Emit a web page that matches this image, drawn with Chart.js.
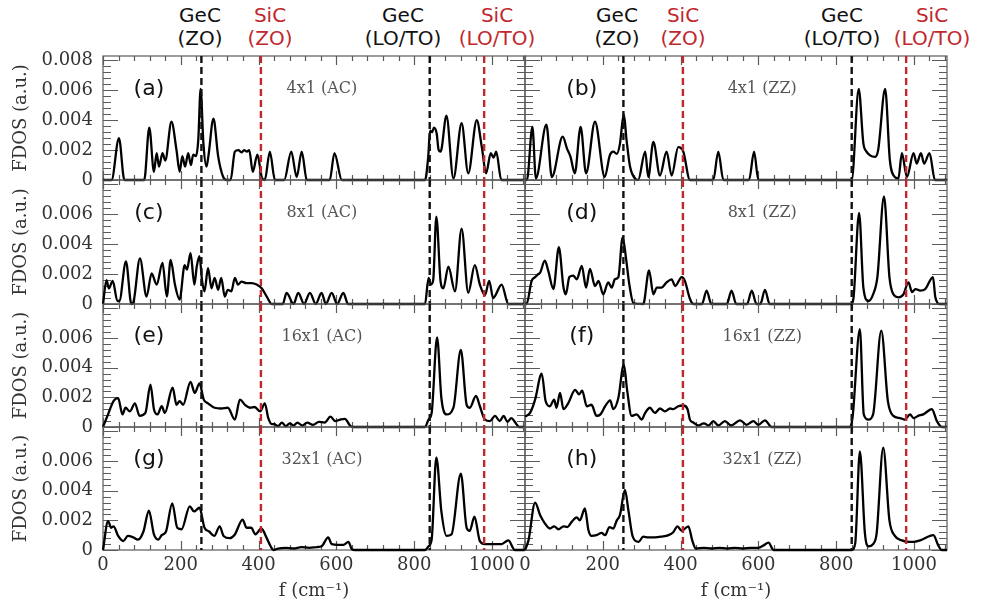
<!DOCTYPE html>
<html>
<head>
<meta charset="utf-8">
<script src="https://cdn.jsdelivr.net/npm/chart.js@4.4.1/dist/chart.umd.min.js"></script>
<style>
  html, body { margin: 0; padding: 0; background: #fff; }
  #fig { position: relative; width: 982px; height: 607px; overflow: hidden; background: #fff; }
  #fig canvas { position: absolute; }
  .mode { position: absolute; top: 4px; transform: translateX(-50%); font: 20px "DejaVu Sans", sans-serif;
          line-height: 23px; text-align: center; white-space: nowrap; }
</style>
</head>
<body>
<div id="fig"></div>
<script>
// frequency (cm^-1) and FDOS (in units of 1e-3 a.u.)
const freqA = [0, 22, 41, 55, 106, 119, 131, 138, 144, 153, 160, 176, 189, 197, 204, 211, 219, 226, 232, 239, 245, 251, 258, 266, 271, 284, 296, 309, 318, 328, 339, 348, 356, 363, 370, 376, 385, 397, 408, 416, 429, 442, 466, 484, 498, 511, 524, 583, 595, 614, 828, 836, 841, 846, 851, 858, 863, 868, 883, 901, 922, 939, 961, 974, 985, 997, 1004, 1011, 1024, 1085];
const fdosA = [0, 0, 2.8, 0, 0, 3.5, 0.55, 1.8, 0.9, 1.8, 1.3, 3.9, 2.0, 0.55, 1.6, 0.9, 1.8, 1.0, 1.7, 1.6, 2.7, 6.1, 2.5, 0.9, 1.6, 4.1, 1.6, 0.2, 0, 0, 1.9, 2.0, 1.85, 2.0, 1.9, 2.0, 0.55, 1.7, 0.2, 0, 1.9, 0, 0, 1.9, 0.2, 1.9, 0, 0, 1.8, 0, 0, 1.5, 3.3, 3.2, 3.5, 3.1, 2.0, 1.9, 4.3, 0.1, 3.8, 0.45, 4.0, 2.2, 0.45, 1.8, 1.5, 1.9, 0, 0];

const freqB = [0, 5, 19, 28, 55, 69, 97, 108, 117, 128, 143, 157, 180, 205, 218, 227, 236, 244, 254, 261, 270, 285, 291, 309, 317, 330, 347, 364, 377, 394, 407, 424, 484, 497, 510, 576, 589, 600, 840, 858, 870, 878, 887, 900, 908, 926, 938, 951, 960, 969, 982, 999, 1007, 1018, 1026, 1040, 1054, 1085];
const fdosB = [0, 0, 3.55, 0.1, 3.7, 0.2, 2.9, 2.1, 1.55, 0.45, 3.55, 0.45, 3.9, 0.2, 1.65, 1.9, 1.75, 2.4, 4.4, 2.7, 0.9, 0.05, 0, 1.9, 0.2, 2.55, 0.3, 1.9, 0.3, 2.2, 1.9, 0, 0, 1.9, 0, 0, 1.9, 0, 0, 6.1, 2.45, 1.9, 1.65, 1.55, 2.0, 6.1, 1.35, 0.2, 0.1, 1.8, 0.2, 1.8, 1.1, 1.8, 1.1, 1.8, 0, 0];

const freqC = [0, 9, 15, 25, 37, 42, 59, 73, 78, 95, 112, 125, 138, 153, 164, 174, 185, 197, 210, 216, 225, 235, 241, 248, 255, 261, 270, 279, 287, 296, 304, 313, 321, 330, 339, 347, 356, 369, 382, 395, 408, 421, 434, 462, 472, 490, 502, 517, 532, 547, 562, 573, 588, 602, 618, 630, 828, 837, 843, 849, 857, 868, 875, 888, 905, 922, 939, 956, 969, 982, 993, 1003, 1025, 1042, 1085];
const fdosC = [0, 1.6, 1.05, 1.55, 0.2, 0.2, 2.85, 0, 0.1, 3.05, 0.5, 2.05, 1.3, 2.75, 0.5, 2.95, 1.3, 0.3, 2.6, 2.3, 3.4, 1.3, 2.5, 3.2, 1.5, 0.85, 2.4, 1.05, 1.75, 0.95, 1.75, 0.5, 0.95, 0.85, 1.75, 1.3, 1.5, 1.4, 1.4, 1.3, 1.05, 0.5, 0, 0, 0.75, 0, 0.75, 0, 0.75, 0, 0.75, 0, 0.75, 0, 0.75, 0, 0, 1.75, 1.3, 1.6, 5.85, 1.5, 1.05, 2.5, 0.85, 5.05, 0.75, 2.6, 1.3, 0.6, 1.55, 0.4, 1.3, 0, 0];

const freqD = [0, 4, 17, 26, 34, 39, 51, 60, 73, 87, 99, 105, 114, 124, 133, 146, 157, 167, 180, 189, 201, 214, 223, 231, 240, 251, 260, 268, 279, 304, 319, 330, 339, 351, 364, 377, 386, 403, 411, 424, 433, 455, 467, 479, 519, 531, 543, 571, 583, 595, 605, 617, 629, 840, 845, 859, 870, 883, 895, 906, 923, 937, 947, 960, 973, 986, 995, 1004, 1016, 1029, 1049, 1055, 1067, 1085];
const fdosD = [0, 0, 1.55, 1.8, 2.0, 2.1, 2.9, 2.2, 1.0, 3.8, 1.1, 0.65, 1.8, 1.9, 1.65, 2.55, 1.1, 2.35, 1.2, 1.55, 0.65, 1.45, 1.1, 1.65, 1.8, 4.45, 3.0, 1.35, 0.05, 0, 2.25, 0.65, 1.1, 1.1, 1.45, 1.65, 1.2, 1.8, 1.55, 0.35, 0, 0, 0.9, 0, 0, 0.9, 0, 0, 0.9, 0, 0, 0.95, 0, 0, 0.5, 6.1, 1.1, 0.2, 0.65, 1.8, 7.2, 1.8, 0.65, 0.45, 0.65, 1.45, 0.8, 1.0, 0.9, 1.0, 1.8, 0.45, 0, 0];

const freqE = [0, 13, 27, 39, 50, 58, 69, 82, 94, 109, 122, 131, 140, 151, 159, 179, 189, 197, 206, 225, 236, 248, 259, 270, 287, 304, 321, 339, 352, 365, 378, 390, 404, 416, 425, 434, 440, 450, 460, 470, 480, 490, 500, 512, 525, 540, 555, 570, 585, 597, 610, 622, 635, 642, 828, 837, 845, 859, 870, 883, 901, 920, 935, 943, 959, 969, 982, 995, 1008, 1020, 1030, 1040, 1050, 1060, 1070, 1085];
const fdosE = [0, 0.85, 1.75, 1.95, 0.85, 1.3, 1.05, 1.6, 0.75, 0.95, 2.85, 1.2, 0.85, 1.4, 0.95, 2.65, 1.5, 1.75, 1.5, 3.05, 2.3, 2.95, 1.85, 1.6, 1.3, 1.25, 1.3, 0.5, 1.85, 1.5, 1.3, 1.35, 1.05, 1.6, 0.6, 0.2, 0.2, 0.05, 0.3, 0.05, 0.25, 0.1, 0.3, 0.1, 0.3, 0.15, 0.35, 0.3, 0.7, 0.4, 0.5, 0.55, 0.1, 0, 0, 0.5, 0.95, 6.05, 1.95, 0.85, 1.3, 5.2, 1.5, 1.3, 2.1, 1.4, 0.5, 0.4, 0.75, 0.4, 0.75, 0.35, 0.6, 0.3, 0, 0];

const freqF = [0, 13, 26, 43, 53, 64, 75, 81, 90, 99, 111, 129, 139, 147, 159, 171, 184, 194, 206, 219, 227, 240, 254, 263, 274, 287, 300, 309, 321, 334, 347, 360, 373, 381, 394, 407, 418, 424, 433, 445, 460, 472, 484, 497, 514, 530, 553, 570, 587, 600, 617, 634, 835, 842, 861, 871, 883, 895, 916, 933, 947, 964, 977, 990, 999, 1011, 1024, 1046, 1059, 1072, 1085];
const fdosF = [0.7, 0.95, 1.85, 3.6, 1.75, 1.4, 1.85, 1.3, 2.3, 1.2, 1.6, 2.5, 2.2, 2.45, 1.4, 1.5, 0.75, 0.85, 1.4, 1.8, 1.2, 1.95, 4.2, 2.4, 0.75, 0.85, 0.5, 0.95, 1.3, 0.95, 1.25, 1.05, 1.25, 1.2, 1.4, 1.45, 1.2, 0.5, 0.3, 0.1, 0.25, 0.1, 0.4, 0.1, 0.4, 0.1, 0.45, 0.15, 0.4, 0.15, 0.45, 0, 0, 0.6, 6.6, 0.85, 0.5, 0.85, 6.5, 1.75, 0.75, 0.6, 0.5, 0.85, 0.6, 0.75, 0.85, 1.2, 0.4, 0, 0];

const freqG = [0, 13, 21, 27, 39, 52, 64, 78, 90, 104, 118, 131, 142, 151, 162, 178, 191, 202, 223, 234, 248, 261, 273, 286, 300, 310, 326, 339, 359, 369, 381, 392, 407, 421, 431, 438, 450, 470, 490, 510, 530, 550, 562, 579, 588, 605, 618, 631, 640, 648, 828, 837, 845, 857, 870, 883, 896, 920, 935, 943, 955, 969, 982, 1003, 1025, 1042, 1059, 1085];
const fdosG = [0, 1.95, 1.5, 1.6, 0.95, 0.6, 0.95, 0.85, 0.7, 1.25, 2.65, 1.05, 0.7, 1.0, 1.25, 3.15, 1.5, 1.4, 2.95, 2.6, 2.85, 1.5, 1.25, 0.95, 1.6, 0.95, 0.8, 1.05, 2.05, 1.5, 1.5, 1.05, 1.45, 0.8, 0.25, 0, 0.1, 0.15, 0.1, 0.2, 0.15, 0.2, 0.25, 0.85, 0.4, 0.35, 0.35, 0.55, 0.05, 0, 0, 0.25, 0.7, 6.25, 2.6, 0.95, 1.05, 5.15, 1.5, 1.3, 2.25, 0.6, 0.4, 0.4, 0.4, 0.65, 0, 0];

const freqH = [0, 9, 26, 39, 51, 64, 75, 86, 99, 109, 120, 133, 141, 154, 163, 171, 184, 197, 206, 217, 227, 236, 244, 257, 266, 277, 292, 304, 317, 334, 351, 369, 381, 392, 403, 420, 430, 439, 460, 480, 500, 520, 540, 560, 580, 600, 613, 626, 639, 840, 849, 861, 874, 883, 895, 904, 921, 937, 951, 969, 986, 999, 1016, 1050, 1062, 1071, 1085];
const fdosH = [0, 0.65, 3.2, 2.35, 1.8, 1.45, 1.6, 1.4, 1.6, 1.55, 1.9, 2.2, 2.0, 2.8, 1.35, 0.95, 1.0, 1.15, 1.0, 1.55, 1.45, 2.0, 2.35, 4.05, 2.65, 0.9, 0.55, 0.9, 0.85, 0.85, 0.9, 1.0, 1.2, 1.6, 1.3, 1.6, 0.65, 0.1, 0.15, 0.1, 0.15, 0.1, 0.15, 0.1, 0.15, 0.15, 0.3, 0.5, 0, 0, 0.45, 6.65, 1.1, 0.25, 0.4, 1.1, 6.9, 2.0, 0.95, 0.65, 0.55, 0.55, 0.65, 1.0, 0.35, 0, 0];

const panelFreqs = [freqA, freqB, freqC, freqD, freqE, freqF, freqG, freqH];
const panelFdos = [fdosA, fdosB, fdosC, fdosD, fdosE, fdosF, fdosG, fdosH];
const panelLetters = ['(a)', '(b)', '(c)', '(d)', '(e)', '(f)', '(g)', '(h)'];
const panelTitles = ['4x1 (AC)', '4x1 (ZZ)', '8x1 (AC)', '8x1 (ZZ)', '16x1 (AC)', '16x1 (ZZ)', '32x1 (AC)', '32x1 (ZZ)'];

// reference phonon modes (dashed lines)
const modeFreqs = [253, 406, 840, 980];
const modeNames = [['GeC', '(ZO)'], ['SiC', '(ZO)'], ['GeC', '(LO/TO)'], ['SiC', '(LO/TO)']];
const modeColors = ['#111111', '#c0282d', '#111111', '#c0282d'];
const modeLabelX = [[200, 270, 403, 497], [617, 683, 842, 932]];

const xTickStep = 200;
const yTickStep = 0.002;
const fdosUnit = 1e-3;

// page geometry
const plotLeft = [103, 525];
const plotRight = [525, 947];
const rowTop = [56, 180, 304, 427];
const rowBottom = [180, 304, 427, 550];

const fig = document.getElementById('fig');

// mode labels above the panels
[0, 1].forEach(col => {
  modeNames.forEach((name, i) => {
    const d = document.createElement('div');
    d.className = 'mode';
    d.style.left = modeLabelX[col][i] + 'px';
    d.style.color = modeColors[i];
    d.innerHTML = name[0] + '<br>' + name[1];
    fig.appendChild(d);
  });
});

const decor = {
  id: 'decor',
  beforeDatasetsDraw(chart) {
    const { ctx, chartArea: a, scales: { x, y } } = chart;
    ctx.save();
    ctx.strokeStyle = '#5a5a5a';
    ctx.lineWidth = 1.2;
    ctx.strokeRect(a.left, a.top, a.width, a.height);
    ctx.beginPath();
    for (let k = 0; k * 40 <= x.max; k++) {
      const px = Math.round(x.getPixelForValue(k * 40)) + 0.5;
      const len = k % 5 === 0 ? 9 : 5;
      ctx.moveTo(px, a.bottom); ctx.lineTo(px, a.bottom - len);
      ctx.moveTo(px, a.top); ctx.lineTo(px, a.top + len);
    }
    for (let k = 0; k * 0.0004 <= y.max + 1e-9; k++) {
      const py = Math.round(y.getPixelForValue(k * 0.0004)) + 0.5;
      const len = k % 5 === 0 ? 15 : 8;
      ctx.moveTo(a.left, py); ctx.lineTo(a.left + len, py);
      ctx.moveTo(a.right, py); ctx.lineTo(a.right - len, py);
    }
    ctx.stroke();
    ctx.restore();
  },
  afterDatasetsDraw(chart, args, opts) {
    const { ctx, chartArea: a, scales: { x, y } } = chart;
    ctx.save();
    ctx.lineWidth = 2.4;
    ctx.setLineDash([7, 4]);
    modeFreqs.forEach((f, i) => {
      const px = x.getPixelForValue(f);
      ctx.strokeStyle = modeColors[i];
      ctx.beginPath();
      ctx.moveTo(px, a.top);
      ctx.lineTo(px, a.bottom);
      ctx.stroke();
    });
    ctx.setLineDash([]);
    ctx.textAlign = 'center';
    ctx.textBaseline = 'middle';
    const ty = y.getPixelForValue(0.0061);
    ctx.fillStyle = '#111';
    ctx.font = '22px "DejaVu Sans", sans-serif';
    ctx.fillText(opts.letter, x.getPixelForValue(opts.col === 0 ? 118 : 146), ty);
    ctx.fillStyle = '#555';
    ctx.font = '16px "DejaVu Serif", serif';
    ctx.fillText(opts.title, x.getPixelForValue(opts.col === 0 ? 563 : 610), ty);
    ctx.restore();
  }
};

function makePanel(i) {
  const row = Math.floor(i / 2), col = i % 2;
  const isBottom = row === 3;
  // room for the y tick labels that spill above / below the plot box
  const padTop = 26;
  const padLeft = col === 0 ? 0 : 14;
  const padRight = col === 0 ? 2 : 8;
  const yWidth = col === 0 ? plotLeft[0] : 0;
  const xHeight = isBottom ? 52 : 26;
  const left = col === 0 ? 0 : plotLeft[1] - padLeft;
  const width = plotRight[col] + padRight - left;
  const top = rowTop[row] - padTop;
  const height = rowBottom[row] - rowTop[row] + padTop + xHeight;

  const canvas = document.createElement('canvas');
  canvas.width = width; canvas.height = height;
  canvas.style.left = left + 'px'; canvas.style.top = top + 'px';
  canvas.style.width = width + 'px'; canvas.style.height = height + 'px';
  canvas.style.zIndex = String(1 + col);
  fig.appendChild(canvas);

  const pts = panelFreqs[i].map((f, k) => ({ x: f, y: panelFdos[i][k] * fdosUnit }));

  return new Chart(canvas.getContext('2d'), {
    type: 'line',
    data: {
      datasets: [{
        data: pts,
        borderColor: '#000',
        borderWidth: 2.3,
        pointRadius: 0,
        fill: false,
        cubicInterpolationMode: 'monotone',
        clip: 2
      }]
    },
    options: {
      responsive: false,
      animation: false,
      devicePixelRatio: 1,
      layout: { padding: { top: padTop, left: padLeft, right: padRight, bottom: 0 } },
      plugins: {
        legend: { display: false },
        tooltip: { enabled: false },
        decor: { letter: panelLetters[i], title: panelTitles[i], col: col }
      },
      scales: {
        x: {
          type: 'linear',
          min: 0,
          max: 1085,
          grid: { display: false, drawTicks: false },
          border: { display: false },
          ticks: {
            display: isBottom,
            stepSize: xTickStep,
            includeBounds: false,
            autoSkip: false,
            maxRotation: 0,
            padding: 5,
            color: '#333',
            font: { family: 'DejaVu Serif', size: 18 },
            callback: v => String(v)
          },
          title: {
            display: isBottom,
            text: 'f (cm\u207B\u00B9)',
            color: '#333',
            font: { family: 'DejaVu Serif', size: 18 },
            padding: { top: 0, bottom: 0 }
          },
          afterFit: s => { s.height = xHeight; }
        },
        y: {
          type: 'linear',
          min: 0,
          max: 0.0083,
          grid: { display: false, drawTicks: false },
          border: { display: false },
          ticks: {
            display: col === 0,
            stepSize: yTickStep,
            includeBounds: false,
            padding: 10,
            color: '#333',
            font: { family: 'DejaVu Serif', size: 18 },
            callback: v => (row > 0 && v > 0.007) ? '' : (v === 0 ? '0' : v.toFixed(3))
          },
          title: {
            display: col === 0,
            text: 'FDOS (a.u.)',
            color: '#333',
            font: { family: 'DejaVu Serif', size: 18 },
            padding: { top: 11, bottom: 0 }
          },
          afterFit: s => { s.width = yWidth; }
        }
      }
    },
    plugins: [decor]
  });
}

for (let i = 0; i < 8; i++) makePanel(i);
</script>
</body>
</html>
